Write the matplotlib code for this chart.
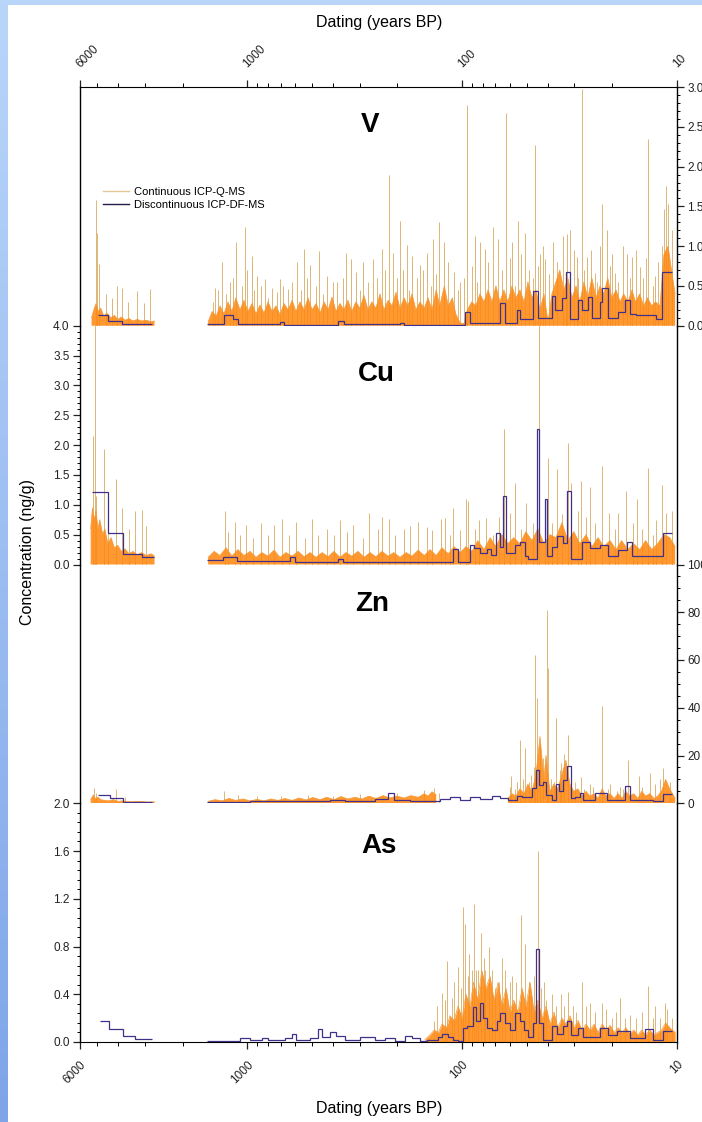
import numpy as np
import matplotlib
matplotlib.use("Agg")
import matplotlib.pyplot as plt
from matplotlib.lines import Line2D
from matplotlib.patches import Rectangle
from matplotlib.colors import LinearSegmentedColormap
from matplotlib.ticker import FixedLocator, MultipleLocator, LogLocator, NullFormatter, FormatStrFormatter

plt.rcParams['font.family'] = ['Liberation Sans', 'DejaVu Sans']

nan = np.nan

# ---------------- V ----------------
v_band_age = [5300, 5150, 5050, 4950, 4800, 4650, 4500, 4300, 4150, 4000, 3850, 3700, 3550, 3400,
              3250, 3100, 2950, 2800, 2700, 2650, 1530,
              1520, 1455, 1395, 1338, 1282, 1228, 1178, 1130, 1080, 1035, 992, 950, 910, 872, 835,
              800, 766, 734, 703, 674, 645, 618, 593, 568, 543, 521, 499, 478, 458, 439, 420, 403,
              386, 370, 355, 340, 326, 312, 299, 286, 274, 263, 252, 241, 231, 221, 212, 203,
              194.5, 186, 179, 171, 164, 157, 150, 144, 138, 132, 127, 121, 116, 111, 107, 102,
              98, 94.5, 90.2, 86.4, 82.6, 79.1, 75.7, 72.6, 69.6, 66.7, 63.9, 61.2, 58.6, 56.2,
              53.8, 51.5, 49.4, 47.3, 45.3, 43.4, 41.6, 39.8, 38.2, 36.6, 35.1, 33.6, 32.2, 30.8,
              29.5, 28.3, 27.1, 26.0, 24.9, 23.8, 22.8, 21.9, 21.0, 20.1, 19.2, 18.4, 17.7, 16.9,
              16.2, 15.6, 14.9, 14.3, 13.7, 13.1, 12.6, 12.0, 11.5, 11.0, 10.6, 10.2]
v_band_hi = [0.10, 0.22, 0.28, 0.18, 0.22, 0.12, 0.16, 0.10, 0.13, 0.08, 0.11, 0.07, 0.09, 0.06,
             0.08, 0.06, 0.07, 0.05, 0.06, nan, nan,
             0.05, 0.18, 0.12, 0.25, 0.15, 0.30, 0.18, 0.35, 0.20, 0.32, 0.18, 0.28, 0.15, 0.26, 0.16,
             0.30, 0.18, 0.25, 0.14, 0.28, 0.20, 0.32, 0.18, 0.30, 0.20, 0.35, 0.20, 0.28, 0.16, 0.30, 0.20, 0.36,
             0.18, 0.28, 0.20, 0.32, 0.18, 0.30, 0.22, 0.38, 0.20, 0.30, 0.22, 0.40, 0.20, 0.32, 0.25, 0.42,
             0.22, 0.35, 0.25, 0.40, 0.20, 0.30, 0.22, 0.35, 0.20, 0.45, 0.25, 0.50, 0.25, 0.35, 0.15, 0.03,
             0.03, 0.20, 0.30, 0.25, 0.40, 0.30, 0.45, 0.30, 0.50, 0.30, 0.45, 0.30, 0.50, 0.35,
             0.45, 0.30, 0.55, 0.35, 0.45, 0.20, 0.40, 0.05, 0.40, 0.55, 0.70, 0.45, 0.60, 0.35,
             0.50, 0.30, 0.55, 0.35, 0.60, 0.35, 0.50, 0.40, 0.60, 0.35, 0.45, 0.30, 0.40, 0.30,
             0.45, 0.30, 0.40, 0.25, 0.35, 0.25, 0.30, 0.25, 0.90, 1.00, 0.70, 0.40]
v_spike_age = [5080, 5000, 4900, 4550, 4260, 4040, 3820, 3590, 3260, 3020, 2834,
               1450, 1410, 1370, 1310, 1250, 1202, 1170, 1130, 1060, 1024, 1000, 955, 930, 905, 860,
               826, 800, 766, 730, 703, 680, 645, 620, 587, 560, 543, 525, 510, 480, 463, 445, 426,
               400, 383, 360, 347, 328, 312, 300, 289, 275, 260, 248, 236, 228, 219, 210, 200, 194.5,
               188, 181, 176, 171, 163, 157, 152, 146, 140, 136, 132, 128, 122, 116, 109, 105, 102,
               98, 95, 90, 87, 85, 82.6, 78.3, 76, 71.9, 68, 65, 62.5, 60, 58.7, 57, 55, 53, 51, 49,
               47, 45.8, 44.5, 43.4, 42, 41.2, 39.5, 37.8, 36, 34, 33, 32.5, 31.5, 30, 29.3, 28.8,
               27.7, 27, 26.2, 25, 24.1, 23.5, 22.8, 22.3, 21.1, 20.5, 20, 19.4, 18.8, 17.9, 17,
               16.6, 16.2, 15.5, 14.9, 14.4, 14, 13.7, 13, 12.7, 12.3, 11.8, 11.5, 11.2, 11.0, 10.5]
v_spike_val = [1.58, 1.16, 0.78, 0.40, 0.35, 0.50, 0.48, 0.30, 0.44, 0.28, 0.46,
               0.30, 0.47, 0.45, 0.80, 0.40, 0.55, 0.60, 1.05, 0.50, 1.24, 0.70, 0.88, 0.45, 0.63, 0.50,
               0.59, 0.35, 0.48, 0.42, 0.59, 0.50, 0.46, 0.55, 0.80, 0.45, 0.97, 0.60, 0.76, 0.50, 0.94, 0.40, 0.63,
               0.55, 0.55, 0.60, 0.92, 0.84, 0.67, 0.45, 0.80, 0.55, 0.84, 0.60, 0.97, 0.70, 1.90, 0.92, 0.60, 1.32,
               0.70, 1.01, 0.45, 0.88, 0.60, 0.76, 0.70, 0.92, 0.50, 1.09, 0.65, 1.30, 1.05, 0.80, 0.67, 0.45, 0.55,
               0.60, 2.77, 0.75, 1.13, 0.55, 1.05, 0.97, 0.80, 1.24, 1.09, 0.70, 2.67, 0.85, 1.05, 0.50, 1.32, 0.90, 1.16, 0.70,
               0.60, 2.27, 0.75, 0.90, 1.00, 0.84, 0.65, 1.05, 0.80, 1.13, 0.55, 1.15, 1.20, 0.95, 0.86, 0.60,
               2.98, 0.70, 0.86, 0.95, 0.66, 0.55, 1.00, 1.53, 1.20, 0.75, 0.90, 0.66, 0.55, 1.00, 0.90,
               0.60, 0.86, 0.95, 0.74, 0.60, 0.85, 2.35, 0.50, 0.62, 0.80, 1.00, 1.47, 1.76, 1.53, 1.20]
v_disc_edges = [4970, 4460, 3820, 2760, 1540, 1282, 1166, 1105, 703, 674, 378, 355, 194.5, 186, 97, 92,
                66.7, 63.2, 55.8, 53.8, 46.8, 44.2, 38.2, 37, 34.3, 32.9, 31.5, 28.9, 27.7, 26.0, 24.9,
                22.8, 22.3, 21.0, 18.8, 17.5, 16.6, 15.5, 12.5, 11.8, 10.6]
v_disc_vals = [0.13, 0.06, 0.02, nan, 0.02, 0.13, 0.08, 0.02, 0.05, 0.015, 0.06, 0.02, 0.04, 0.015, 0.17,
               0.03, 0.29, 0.04, 0.20, 0.08, 0.44, 0.10, 0.38, 0.20, 0.35, 0.67, 0.08, 0.32, 0.20, 0.36,
               0.10, 0.30, 0.48, 0.10, 0.17, 0.32, 0.15, 0.13, 0.08, 0.67]

# ---------------- Cu ----------------
cu_band_age = [5350, 5250, 5150, 5050, 4950, 4850, 4700, 4600, 4450, 4300, 4150, 4000, 3850, 3700,
               3550, 3400, 3250, 3100, 2950, 2800, 2700, 2650, 1530,
               1520, 1425, 1338, 1254, 1178, 1105, 1035, 970, 910, 854, 800, 750, 703, 660, 618, 580,
               543, 510, 478, 448, 420, 395, 370, 347, 326, 305, 286, 268, 252, 236, 221, 208, 194.5,
               182, 171, 160, 150, 141, 132, 124, 116, 109, 102, 96, 90, 84.5, 79, 74, 69.6, 65.3,
               61.2, 57.5, 53.8, 50.5, 47.3, 44.4, 41.6, 39.0, 36.6, 34.3, 32.2, 30.2, 28.3, 26.5,
               24.9, 23.3, 21.9, 20.5, 19.2, 18.1, 16.9, 15.9, 14.9, 14.0, 13.1, 12.3, 11.5, 10.8, 10.2]
cu_band_hi = [0.60, 0.95, 0.75, 0.90, 0.60, 0.75, 0.50, 0.60, 0.35, 0.45, 0.28, 0.32, 0.22, 0.26,
              0.18, 0.22, 0.16, 0.20, 0.15, 0.18, 0.14, nan, nan,
              0.12, 0.22, 0.15, 0.28, 0.14, 0.25, 0.15, 0.22, 0.12, 0.20, 0.14, 0.24, 0.12, 0.20, 0.14, 0.22,
              0.13, 0.20, 0.12, 0.20, 0.13, 0.22, 0.12, 0.20, 0.14, 0.22, 0.12, 0.20, 0.13, 0.22, 0.14, 0.20, 0.12,
              0.20, 0.14, 0.24, 0.15, 0.25, 0.15, 0.28, 0.18, 0.30, 0.20, 0.30, 0.22, 0.40, 0.25, 0.45, 0.30, 0.50,
              0.35, 0.45, 0.35, 0.55, 0.40, 0.60, 0.35, 0.50, 0.45, 0.70, 0.40, 0.55, 0.35, 0.50,
              0.30, 0.45, 0.30, 0.40, 0.25, 0.40, 0.25, 0.35, 0.25, 0.40, 0.25, 0.35, 0.50, 0.45, 0.30]
cu_spike_age = [5200, 5120, 5040, 4630, 4430, 4080, 3820, 3560, 3330, 3080, 2960,
                1268, 1225, 1140, 1075, 1010, 940, 860, 800, 750, 690, 640, 590, 540, 500, 470, 427,
                395, 370, 345, 323, 290, 272, 245, 236, 219, 205, 187, 175, 160, 146, 138, 126, 120,
                114, 110, 102, 96, 94, 87, 83, 77.5, 72, 67, 63.5, 60, 56.5, 53, 50.7, 47, 45, 44,
                41, 40, 38, 36, 34.3, 32, 31, 29, 28, 26.5, 25.5, 24, 22.3, 20.7, 19.5, 18.8, 17.2,
                16, 15.4, 14.6, 13.7, 13, 12.5, 11.7, 11.2, 10.5]
cu_spike_val = [2.15, 4.30, 1.15, 1.93, 1.20, 1.43, 0.95, 0.60, 0.89, 0.92, 0.65,
                0.89, 0.55, 0.72, 0.50, 0.66, 0.45, 0.70, 0.50, 0.66, 0.77, 0.50, 0.72, 0.45, 0.77, 0.50, 0.60,
                0.50, 0.75, 0.55, 0.66, 0.45, 0.86, 0.60, 0.80, 0.77, 0.50, 0.60, 0.64, 0.72, 0.63, 0.58, 0.77, 0.78,
                0.50, 0.94, 0.58, 1.09, 1.06, 0.60, 0.75, 0.78, 0.50, 0.80, 2.27, 0.86, 1.37, 0.60, 1.03, 0.70, 1.53, 4.30,
                1.00, 1.79, 0.70, 1.60, 0.85, 2.04, 1.37, 0.90, 1.40, 0.80, 1.30, 0.70, 1.65, 0.86, 0.60, 0.86, 1.23,
                0.70, 1.09, 0.60, 1.62, 0.50, 0.75, 1.34, 0.86, 0.90]
cu_disc_edges = [5275, 4460, 3780, 3080, 2720, 1540, 1295, 1117, 632, 599, 378, 358, 110, 104.5, 92,
                 88.4, 82.6, 77, 73, 69.6, 66.7, 64.6, 62.5, 56.8, 53.8, 51, 49.4, 44.8, 43.8, 41.2,
                 40.3, 38.2, 36.2, 34, 32.6, 31.2, 27.7, 25.4, 22.8, 21, 18.8, 17.1, 16.2, 11.6, 10.6]
cu_disc_vals = [1.21, 0.53, 0.17, 0.12, nan, 0.07, 0.13, 0.06, 0.12, 0.05, 0.10, 0.04, 0.26, 0.05,
                0.33, 0.28, 0.20, 0.26, 0.16, 0.53, 0.30, 1.14, 0.20, 0.33, 0.37, 0.15, 0.10, 2.27, 0.38,
                1.10, 0.15, 0.30, 0.47, 0.36, 1.23, 0.10, 0.38, 0.28, 0.33, 0.15, 0.25, 0.37, 0.15, 0.53]

# ---------------- Zn ----------------
zn_band_age = [5350, 5200, 5100, 4950, 4800, 4600, 4400, 4200, 4000, 3800, 3500, 3200, 2900, 2700,
               2650, 1530,
               1520, 1410, 1310, 1215, 1130, 1045, 970, 900, 835, 775, 718, 667, 618, 574, 532, 494,
               458, 426, 395, 366, 340, 315, 292, 271, 252, 233, 217, 201, 186, 173, 160, 150, 144,
               138, 132, 128, 62,
               61.2, 58.6, 56.2, 53.8, 51.5, 49.4, 47.3, 45.3, 43.4, 41.6, 40.7, 39.0, 37.4, 35.9,
               34.3, 32.9, 31.5, 30.2, 28.9, 27.7, 26.5, 25.4, 24.3, 23.3, 22.3, 21.4, 20.5, 19.6,
               18.8, 18.0, 17.3, 16.6, 15.9, 15.2, 14.6, 14.0, 13.4, 12.8, 12.3, 11.8, 11.3, 10.8, 10.2]
zn_band_hi = [1.5, 3.5, 2.0, 2.5, 1.5, 1.2, 1.0, 1.5, 0.8, 1.0, 0.6, 0.8, 0.5, 0.6,
              nan, nan,
              0.8, 1.5, 1.0, 2.0, 1.2, 1.8, 1.0, 1.6, 1.0, 1.8, 1.2, 2.0, 1.2, 2.2, 1.4, 2.4,
              1.5, 2.5, 1.5, 2.8, 1.8, 2.5, 1.8, 3.0, 2.0, 3.2, 2.2, 3.0, 2.2, 3.2, 2.5, 4.0, 3.0,
              4.8, 3.5, nan, nan,
              2, 4, 3, 6, 4, 8, 5, 12, 28, 10, 20, 5, 8, 6,
              12, 18, 8, 5, 6, 3, 5, 3, 4, 2, 6, 3, 4, 2,
              4, 2, 5, 3, 4, 2, 5, 3, 4, 2, 3, 5, 10, 6, 2]
zn_spike_age = [5150, 5050, 4080, 3700,
                1280, 1100, 900, 700, 520, 400, 300, 200, 150, 135, 128,
                60, 59.2, 57, 55.8, 53.5, 52, 50.8, 49, 48, 46.5, 45.6, 44.8, 43.4, 42, 40.3, 39.9,
                38.5, 37.5, 36.4, 35, 34.7, 33.5, 32, 31, 29.7, 28, 27, 25.4, 24.5, 22.3, 21, 20.5,
                19, 18.4, 17.8, 16.9, 15.1, 14.5, 13.4, 12.6, 12, 11.6, 10.8]
zn_spike_val = [6.4, 4.5, 6.0, 2.5,
                5.0, 3.5, 3.0, 3.2, 3.5, 3.0, 4.0, 4.5, 5.5, 6.5, 4.5,
                7, 11.3, 6, 9, 26.6, 10, 23, 9, 12, 15, 62.2, 44, 25, 19, 81, 56.6,
                10, 9, 35.7, 14, 17, 20.5, 28.7, 7, 9, 11, 6, 8, 7, 40.6, 6, 8,
                5, 7, 6, 18.3, 11.5, 7, 12.5, 8, 10, 14.8, 9]
zn_disc_edges = [4930, 4350, 3780, 2760, 1540, 970, 632, 412, 351, 254, 221, 208, 175, 127, 114,
                 102, 92, 82.6, 72.6, 66.7, 61.2, 55.8, 52.6, 47.3, 45.3, 43.9, 42.1, 40.5, 38.2,
                 36.6, 35.5, 34, 32.6, 31.2, 29.9, 28.3, 27.4, 24.1, 21.2, 17.5, 16.6, 13.0, 11.6, 10.6]
zn_disc_vals = [3.3, 2.0, 0.6, nan, 0.5, 0.8, 1.0, 1.5, 1.0, 1.6, 4.3, 1.2, 1.0, 1.8,
                2.8, 1.5, 2.5, 1.8, 3.0, 2.2, 1.5, 3.0, 2.8, 6.4, 14, 7.5, 8.9, 3.5,
                1.5, 8, 5, 9.6, 15.5, 2, 2.5, 4.5, 1.5, 4.3, 1.5, 7.1, 1.5, 0.8, 3.8]

# ---------------- As ----------------
as_band_age = [149, 141, 135, 129, 124, 118, 114, 109, 104.5, 100, 96, 92, 88.4, 84.5, 81, 77.5,
               74.2, 71, 68, 65.3, 62.5, 59.9, 57.5, 55, 52.6, 50.5, 48.3, 46.3, 44.4, 42.5, 40.7,
               39, 37.4, 35.9, 34.3, 32.9, 31.5, 30.2, 28.9, 27.7, 26.5, 25.4, 24.3, 23.3, 22.3,
               21.4, 20.5, 19.6, 18.8, 18.0, 17.3, 16.6, 15.9, 15.2, 14.6, 14.0, 13.4, 12.8, 12.3,
               11.8, 11.3, 10.8, 10.2]
as_band_hi = [0.02, 0.06, 0.10, 0.08, 0.15, 0.12, 0.22, 0.18, 0.30, 0.20, 0.40, 0.30, 0.50, 0.35, 0.60, 0.45,
              0.55, 0.35, 0.50, 0.30, 0.45, 0.25, 0.35, 0.25, 0.45, 0.30, 0.50, 0.25, 0.35, 0.20, 0.30,
              0.15, 0.25, 0.12, 0.20, 0.15, 0.22, 0.12, 0.18, 0.10, 0.15, 0.10, 0.15, 0.08, 0.15,
              0.10, 0.14, 0.08, 0.12, 0.08, 0.12, 0.07, 0.10, 0.06, 0.10, 0.06, 0.10, 0.06, 0.08,
              0.10, 0.16, 0.12, 0.08]
as_spike_age = [135, 131, 124, 120, 117, 112, 109, 104.5, 101, 98.6, 96.5, 94, 92.5, 90, 88.5, 86.3,
                84.5, 81.5, 79, 78.3, 75, 72.3, 70, 67.5, 65.5, 63, 60, 58.5, 56, 53, 51, 49, 47.8,
                46.5, 44.2, 43, 41.7, 40.5, 38, 36.5, 34.8, 33.5, 32.3, 30.5, 29.5, 27.7, 26.5, 25.3,
                24, 22.3, 21.4, 20, 19.3, 18.4, 17.5, 16.6, 15.5, 14.6, 13.7, 13, 12.6, 12, 11.4,
                11.1, 10.6]
as_spike_val = [0.18, 0.30, 0.41, 0.35, 0.68, 0.37, 0.50, 0.63, 0.45, 1.13, 0.99, 0.55, 0.74, 0.60, 1.16, 0.60,
                0.60, 0.91, 0.70, 0.60, 0.80, 0.60, 0.45, 0.50, 0.70, 0.60, 0.50, 0.55, 0.50, 1.06, 0.82, 0.50, 0.40,
                0.55, 1.60, 0.45, 0.50, 0.35, 0.40, 0.30, 0.40, 0.30, 0.42, 0.30, 0.25, 0.50, 0.30, 0.33,
                0.25, 0.33, 0.28, 0.20, 0.25, 0.37, 0.20, 0.23, 0.20, 0.25, 0.47, 0.20, 0.30, 0.20, 0.33,
                0.28, 0.20]
as_disc_edges = [4842, 4400, 3780, 3330, 2760, 1540, 1080, 970, 854, 800, 667, 618, 593, 510, 467,
                 448, 412, 386, 351, 299, 254, 229, 205, 184, 171, 157, 146, 130, 124, 116, 110,
                 104.5, 99, 95.4, 89.3, 86.4, 82.6, 80.3, 77, 72.6, 69, 66.7, 63.2, 59.9, 56.8, 53.8,
                 51.5, 49.4, 46.8, 45.3, 43.9, 42.1, 38.2, 36.2, 34, 32.6, 31.2, 28.9, 27.4, 22.8, 21,
                 19.1, 16.6, 14.1, 13, 11.6, 10.6]
as_disc_vals = [0.18, 0.11, 0.05, 0.025, nan, 0.01, 0.03, 0.015, 0.035, 0.02, 0.03, 0.07, 0.02, 0.03,
                0.11, 0.04, 0.08, 0.05, 0.02, 0.04, 0.015, 0.03, 0.01, 0.05, 0.03, 0.005, 0.02, 0.04,
                0.07, 0.04, 0.02, 0.01, 0.12, 0.13, 0.29, 0.18, 0.33, 0.20, 0.12, 0.10, 0.18, 0.24,
                0.16, 0.10, 0.24, 0.18, 0.10, 0.04, 0.16, 0.78, 0.16, 0.02, 0.13, 0.07, 0.13, 0.18,
                0.06, 0.12, 0.04, 0.12, 0.06, 0.09, 0.03, 0.11, 0.02, 0.09]

panels = [
    ("V", v_band_age, v_band_hi, v_spike_age, v_spike_val, v_disc_edges, v_disc_vals),
    ("Cu", cu_band_age, cu_band_hi, cu_spike_age, cu_spike_val, cu_disc_edges, cu_disc_vals),
    ("Zn", zn_band_age, zn_band_hi, zn_spike_age, zn_spike_val, zn_disc_edges, zn_disc_vals),
    ("As", as_band_age, as_band_hi, as_spike_age, as_spike_val, as_disc_edges, as_disc_vals),
]
ylims = [(0, 3.0), (0, 4.0), (0, 100), (0, 2.0)]
ymajor = [0.5, 0.5, 20, 0.4]
yminor = [0.1, 0.1, 5, 0.08]
yfmt = ['%.1f', '%.1f', '%d', '%.1f']
yside = ['right', 'left', 'right', 'left']
title_pos = [(0.486, 0.84), (0.496, 0.80), (0.489, 0.835), (0.501, 0.82)]

c_band = '#ff8a14'
c_spike = '#dcb676'
c_disc = '#40308a'

W, H = 702, 1122
fig = plt.figure(figsize=(W / 100, H / 100), dpi=100)

# light blue frame on the left and the top
bg = fig.add_axes([0, 0, 1, 1], zorder=-10)
grad = np.linspace(0, 1, 256).reshape(-1, 1)
bg.imshow(grad, aspect='auto', extent=[0, 1, 0, 1],
          cmap=LinearSegmentedColormap.from_list('frame', ['#b9d6fa', '#7ea5e8']))
bg.add_patch(Rectangle((8 / W, 0), 1, 1 - 5 / H, transform=bg.transAxes,
                       facecolor='white', edgecolor='none'))
bg.set_xlim(0, 1)
bg.set_ylim(0, 1)
bg.set_axis_off()

left, right = 80 / W, 677 / W
top_px, bot_px = 87, 1042
h_px = (bot_px - top_px) / 4

axes = []
for i, (name, b_age, b_hi, s_age, s_val, d_edges, d_vals) in enumerate(panels):
    y0 = 1 - (top_px + (i + 1) * h_px) / H
    ax = fig.add_axes([left, y0, right - left, h_px / H], sharex=axes[0] if axes else None)
    ax.patch.set_alpha(0)
    axes.append(ax)

    ax.vlines(s_age, 0, s_val, color=c_spike, lw=0.7, zorder=1)
    ax.fill_between(b_age, 0, b_hi, color=c_band, lw=0, alpha=0.88, zorder=2)
    ax.plot(b_age, b_hi, color='#f29a38', lw=0.5, zorder=2)
    ax.stairs(d_vals, d_edges, color=c_disc, lw=0.9, baseline=None, zorder=3)

    ax.set_xscale('log')
    ax.set_xlim(6000, 10)
    ax.set_ylim(*ylims[i])

    ax.text(title_pos[i][0], title_pos[i][1], name, transform=ax.transAxes,
            ha='center', va='center', fontsize=20, fontweight='bold')

    for sp in ['left', 'right']:
        ax.spines[sp].set_linewidth(1.0)
    ax.spines['top'].set_visible(i == 0)
    ax.spines['bottom'].set_visible(i == 3)

    # y axis on alternating sides
    ax.yaxis.set_major_locator(MultipleLocator(ymajor[i]))
    ax.yaxis.set_minor_locator(MultipleLocator(yminor[i]))
    ax.yaxis.set_major_formatter(FormatStrFormatter(yfmt[i]))
    if yside[i] == 'right':
        ax.yaxis.tick_right()
    else:
        ax.yaxis.tick_left()
    ax.tick_params(axis='y', which='major', direction='out', length=5, width=0.9,
                   labelsize=8.5, pad=2.5, colors='#222222')
    ax.tick_params(axis='y', which='minor', direction='out', length=2.5, width=0.7)

    # shared dating axis
    ax.xaxis.set_major_locator(FixedLocator([6000, 1000, 100, 10]))
    ax.xaxis.set_minor_locator(LogLocator(base=10, subs=np.arange(2, 10)))
    ax.xaxis.set_minor_formatter(NullFormatter())
    ax.set_xticks([6000, 1000, 100, 10], ['6000', '1000', '100', '10'])
    if i == 0:
        ax.xaxis.tick_top()
        ax.tick_params(axis='x', which='major', direction='out', length=5, width=0.9,
                       labelsize=8.5, pad=9, colors='#222222')
        ax.tick_params(axis='x', which='minor', direction='out', length=3, width=0.7)
        for lbl in ax.get_xticklabels():
            lbl.set_rotation(45)
            lbl.set_rotation_mode('anchor')
            lbl.set_ha('left')
            lbl.set_va('baseline')
    elif i == 3:
        ax.xaxis.tick_bottom()
        ax.tick_params(axis='x', which='major', direction='out', length=5, width=0.9,
                       labelsize=8.5, pad=7, colors='#222222')
        ax.tick_params(axis='x', which='minor', direction='out', length=3, width=0.7)
        for lbl in ax.get_xticklabels():
            lbl.set_rotation(45)
            lbl.set_rotation_mode('anchor')
            lbl.set_ha('right')
            lbl.set_va('top')
    else:
        ax.tick_params(axis='x', which='both', top=False, bottom=False,
                       labeltop=False, labelbottom=False)

handles = [Line2D([], [], color='#e4c89a', lw=1.0), Line2D([], [], color='#231d4a', lw=1.0)]
axes[0].legend(handles, ['Continuous ICP-Q-MS', 'Discontinuous ICP-DF-MS'],
               loc='upper left', bbox_to_anchor=(0.038, 0.58), frameon=False,
               fontsize=8, handlelength=2.4, handletextpad=0.4, labelspacing=0.25,
               borderpad=0, borderaxespad=0)

fig.text(379 / W, 1 - 23 / H, 'Dating (years BP)', ha='center', va='center', fontsize=11.5)
fig.text(379 / W, 1 - 1108 / H, 'Dating (years BP)', ha='center', va='center', fontsize=11.5)
fig.text(28 / W, 1 - 552 / H, 'Concentration (ng/g)', rotation=90,
         ha='center', va='center', fontsize=11.5)

fig.savefig('out.png', dpi=100)
